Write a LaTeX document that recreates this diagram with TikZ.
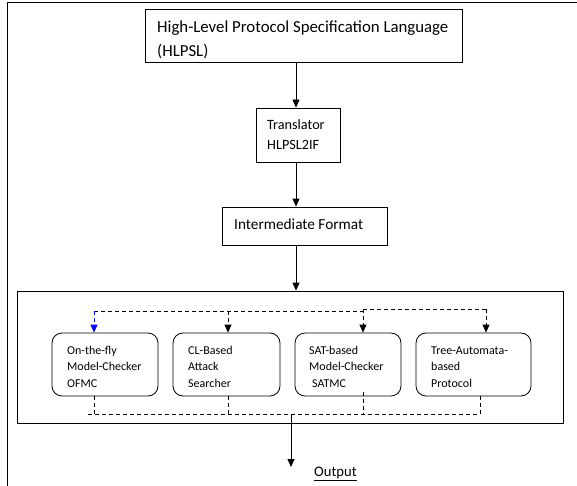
\documentclass[tikz,border=0pt]{standalone}
\usepackage{fontspec}
\setmainfont{Carlito}
\usetikzlibrary{arrows.meta}
\begin{document}
\begin{tikzpicture}[x=1pt,y=-1pt,
  box/.style={draw=black,line width=0.8pt,inner sep=0pt,minimum width=#1},
  rbox/.style={draw=black,line width=0.8pt,rounded corners=10pt,inner sep=0pt,minimum width=#1,minimum height=63pt},
  huge/.style={inner sep=0pt,anchor=base west,font=\fontsize{16.8}{24}\selectfont},
  big/.style={inner sep=0pt,anchor=base west,font=\fontsize{15.3}{22}\selectfont},
  mid/.style={inner sep=0pt,anchor=base west,font=\fontsize{14.2}{20}\selectfont},
  small/.style={inner sep=0pt,anchor=base west,font=\fontsize{12}{16.5}\selectfont},
  outs/.style={inner sep=0pt,anchor=base west,font=\fontsize{14.6}{20}\selectfont},
  arr/.style={line width=0.8pt,-{Triangle[width=7pt,length=8pt]}},
  dsh/.style={line width=0.8pt,dash pattern=on 4pt off 3pt},
  darr/.style={dsh,-{Triangle[width=7pt,length=8pt]}}]
\useasboundingbox (0,0) rectangle (577,486);
% outer frame (top and left edges)
\coordinate (ftl) at (7,2);
\coordinate (ftr) at (577,2);
\coordinate (fbl) at (7,486);
\draw[line width=0.8pt] (ftr) -- (ftl) -- (fbl);
% main boxes
\node[box=317pt,minimum height=53pt] (hl) at (303.5,35.5) {};
\node[box=84pt,minimum height=54pt] (tr) at (298,135) {};
\node[box=165pt,minimum height=38pt] (im) at (304.5,226) {};
\node[box=546pt,minimum height=132pt] (fr) at (290,357) {};
% texts (base anchor = baseline of last line)
\node[huge,align=left] (hlt) at (157,57) {High-Level Protocol Specification Language\\(HLPSL)};
\node[mid,align=left] (trt) at (267,149.5) {Translator\\HLPSL2IF};
\node[big] (imt) at (234,229.5) {Intermediate Format};
% inner rounded boxes
\node[rbox=106pt] (b1) at (105,364.5) {};
\node[rbox=107pt] (b2) at (226.5,364.5) {};
\node[rbox=106pt] (b3) at (348,364.5) {};
\node[rbox=115pt] (b4) at (473.5,364.5) {};
\node[small,align=left] (b1t) at (67,387) {On-the-fly\\Model-Checker\\OFMC};
\node[small,align=left] (b2t) at (188,387) {CL-Based\\Attack\\Searcher};
\node[small,align=left] (b3t) at (309,387) {SAT-based\\Model-Checker\\\hspace{3pt}SATMC};
\node[small,align=left] (b4t) at (431,387) {Tree-Automata-\\based\\Protocol};
\node[outs] (out) at (314,476) {\underline{Output}};
% main arrows
\draw[arr] (hl.south -| 296,0) -- (tr.north -| 296,0);
\draw[arr] (tr.south -| 296,0) -- (im.north -| 296,0);
\draw[arr] (im.south -| 296,0) -- (fr.north -| 296,0);
% dashed distribution lines
\coordinate (t1) at (94,311);
\coordinate (t3) at (363,311);
\coordinate (t3b) at (363,309);
\coordinate (t4) at (486,309);
\draw[dsh] (t1) -- (t3);
\draw[dsh] (t3b) -- (t4);
\draw[darr,blue] (t1) -- (t1 |- b1.north);
\draw[darr] (228,311) -- (228,0 |- b2.north);
\draw[darr] (t3b) -- (t3b |- b3.north);
\draw[darr] (t4) -- (t4 |- b4.north);
% dashed collection lines
\coordinate (c0) at (88,414);
\coordinate (c4) at (480,414);
\coordinate (co) at (291,414);
\draw[dsh] (c0) -- (c4);
\draw[dsh] (b1.south -| 94,0) -- (94,414);
\draw[dsh] (b2.south -| 228,0) -- (228,414);
\draw[dsh] (363,392) -- (363,414);
\draw[dsh] (b4.south -| 480,0) -- (480,414);
\draw[arr] (co) -- (291,467);
\end{tikzpicture}
\end{document}
